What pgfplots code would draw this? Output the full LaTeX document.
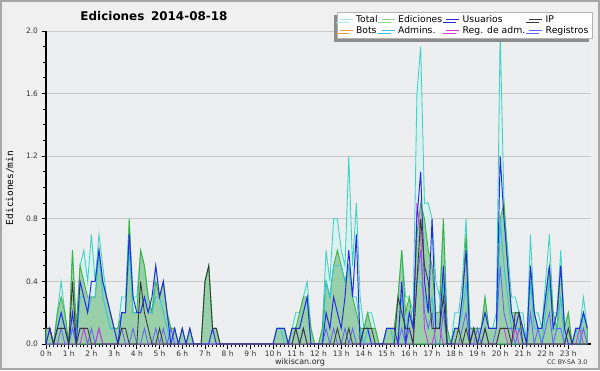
\documentclass[border=0pt]{standalone}
\usepackage{pgfplots}
\pgfplotsset{compat=1.18}
\usepackage{pgfplotstable}
\usepackage{fontspec}
\setmainfont{DejaVu Sans}
\newfontfamily\monofont{DejaVu Sans Mono}
\usetikzlibrary{shadows}

\definecolor{bgout}{HTML}{F0F0F0}
\definecolor{bgin}{HTML}{EDEEF0}
\definecolor{frame}{HTML}{A8A8A8}
\definecolor{totline}{HTML}{3CD2C4}
\definecolor{totfill}{HTML}{D6F3EF}
\definecolor{edline}{HTML}{3DB040}
\definecolor{edfill}{HTML}{6DBB7C}
\definecolor{usline}{HTML}{2828E0}
\definecolor{ipline}{HTML}{383838}
\definecolor{botline}{HTML}{F09A3A}
\definecolor{adline}{HTML}{30C4E0}
\definecolor{raline}{HTML}{D038D8}
\definecolor{rgline}{HTML}{6464F4}
\definecolor{legtot}{HTML}{A8E6E4}
\definecolor{leged}{HTML}{8ED88E}
\definecolor{gridc}{HTML}{C8C8C8}

\pgfplotstableread{
i T E U P A R M
0 0.1 0.1 0 0.1 0 0 0
1 0.1 0.1 0.1 0.1 0 0.1 0
2 0 0 0 0 0 0 0
3 0.2 0.2 0.1 0.1 0.1 0 0
4 0.4 0.3 0.2 0.1 0.2 0.1 0
5 0.2 0.2 0.1 0.1 0.1 0 0
6 0 0 0 0 0 0 0
7 0.6 0.6 0.2 0.4 0.1 0.1 0
8 0.1 0.1 0 0 0 0 0
9 0.5 0.5 0.4 0.1 0.3 0.1 0
10 0.6 0.4 0.3 0.1 0.3 0.1 0.1
11 0.4 0.3 0.2 0.1 0.2 0 0
12 0.7 0.3 0.4 0 0.3 0.1 0
13 0.4 0.3 0.4 0 0.3 0 0
14 0.7 0.6 0.6 0 0.6 0.1 0.1
15 0.5 0.4 0.4 0 0.3 0 0
16 0.3 0.3 0.3 0 0.2 0 0
17 0.2 0.2 0.2 0 0.1 0 0
18 0.1 0.1 0.1 0 0.1 0 0
19 0.1 0.1 0 0 0 0 0
20 0.3 0.2 0.2 0.1 0.2 0.1 0
21 0.3 0.2 0.2 0.1 0.2 0 0
22 0.8 0.8 0.7 0 0.6 0 0
23 0.3 0.2 0.3 0 0.2 0.1 0
24 0.3 0.2 0.2 0 0.2 0 0
25 0.6 0.6 0.2 0.4 0.2 0 0
26 0.5 0.5 0.3 0.2 0.3 0.1 0
27 0.3 0.3 0.2 0.1 0.2 0 0
28 0.2 0.2 0.3 0 0.2 0 0
29 0.5 0.4 0.5 0 0.3 0.1 0
30 0.3 0.3 0.3 0.1 0.3 0 0
31 0.4 0.4 0.4 0 0.2 0.1 0
32 0.2 0.2 0.2 0 0.1 0 0
33 0.1 0.1 0 0 0 0.1 0
34 0.1 0.1 0.1 0 0 0 0
35 0 0 0 0 0 0 0
36 0.1 0.1 0.1 0 0 0 0
37 0 0 0 0 0 0 0
38 0.1 0.1 0.1 0 0 0 0
39 0 0 0 0 0 0 0
40 0 0 0 0 0 0 0
41 0 0 0 0 0 0 0
42 0.4 0.4 0 0.4 0 0 0
43 0.5 0.5 0 0.5 0 0 0
44 0.1 0.1 0.1 0.1 0 0 0
45 0.1 0.1 0 0.1 0 0 0
46 0 0 0 0 0 0 0
47 0 0 0 0 0 0 0
48 0 0 0 0 0 0 0
49 0 0 0 0 0 0 0
50 0 0 0 0 0 0 0
51 0 0 0 0 0 0 0
52 0 0 0 0 0 0 0
53 0 0 0 0 0 0 0
54 0 0 0 0 0 0 0
55 0 0 0 0 0 0 0
56 0 0 0 0 0 0 0
57 0 0 0 0 0 0 0
58 0 0 0 0 0 0 0
59 0 0 0 0 0 0 0
60 0 0 0 0 0 0 0
61 0.1 0.1 0.1 0 0.1 0 0
62 0.1 0.1 0.1 0 0.1 0 0
63 0.1 0.1 0.1 0 0 0 0
64 0 0 0 0 0 0 0
65 0.1 0.1 0.1 0 0.1 0 0
66 0.2 0.1 0.1 0.1 0.1 0.1 0
67 0.2 0.2 0.1 0 0.1 0 0
68 0.3 0.3 0.2 0.1 0.2 0.1 0
69 0.4 0.3 0.3 0 0.3 0 0
70 0.1 0.1 0 0 0 0 0
71 0 0 0 0 0 0 0
72 0 0 0 0 0 0 0
73 0.1 0.1 0 0 0 0 0
74 0.6 0.4 0.2 0 0.4 0.1 0
75 0.4 0.3 0.1 0 0.3 0 0
76 0.8 0.5 0.3 0 0.5 0.1 0
77 0.8 0.6 0.2 0.1 0.5 0 0
78 0.6 0.5 0.1 0 0.5 0 0
79 0.5 0.4 0.3 0 0.4 0.1 0
80 1.2 0.5 0.6 0.1 0.5 0 0
81 0.5 0.3 0.3 0 0.3 0.1 0
82 0.9 0.2 0.7 0 0.3 0 0
83 0.3 0.1 0 0 0.1 0 0
84 0.1 0.1 0.1 0.1 0 0 0
85 0.2 0.2 0.1 0.1 0.1 0 0
86 0.2 0.1 0 0.1 0 0 0
87 0.1 0.1 0 0 0 0 0
88 0 0 0 0 0 0 0
89 0 0 0 0 0 0 0
90 0.1 0.1 0.1 0 0.1 0 0
91 0.1 0.1 0.1 0 0.1 0 0
92 0.1 0.1 0.1 0 0 0 0
93 0.3 0.3 0 0.3 0 0 0
94 0.6 0.6 0.4 0.2 0.3 0.1 0
95 0.3 0.2 0 0.1 0.1 0 0
96 0.3 0.3 0.2 0.1 0.2 0.1 0
97 0.2 0.1 0.1 0 0.1 0 0
98 1.6 0.7 0.8 0.4 0.4 0.4 0.9
99 1.9 0.9 1.1 0.8 0.4 0.6 0.7
100 0.9 0.8 0.4 0.5 0.3 0.2 0.1
101 0.9 0.6 0.2 0.4 0.2 0.1 0
102 0.8 0.5 0.8 0.1 0.3 0.2 0
103 0.4 0.2 0.1 0.1 0.1 0 0.1
104 0.3 0.2 0.1 0.1 0.1 0 0.1
105 0.8 0.8 0.5 0.3 0.4 0.2 0
106 0.1 0.1 0 0 0 0 0
107 0 0 0 0 0 0 0
108 0.2 0.1 0.1 0 0.1 0 0
109 0.2 0.1 0.1 0.1 0.1 0 0
110 0.4 0.3 0.3 0 0.2 0.1 0
111 0.8 0.7 0.6 0.1 0.4 0.2 0
112 0.1 0.1 0 0 0 0 0
113 0.1 0.1 0.1 0.1 0 0 0
114 0.1 0.1 0 0 0 0.1 0
115 0.1 0.1 0.1 0 0.1 0 0
116 0.3 0.3 0.2 0.1 0.2 0.1 0
117 0.1 0.1 0.1 0 0.1 0 0
118 0.1 0.1 0.1 0 0.1 0 0
119 0.2 0.1 0.1 0 0.1 0.1 0
120 2.0 0.8 1.2 0.1 0.8 0.5 0.1
121 0.9 0.9 0.8 0.1 0.5 0.2 0.1
122 0.6 0.5 0.5 0.1 0.3 0.1 0
123 0.3 0.2 0.2 0 0.1 0.1 0
124 0.3 0.2 0.1 0.2 0.1 0 0.1
125 0.2 0.2 0.2 0.2 0.1 0.1 0
126 0.2 0.1 0.1 0 0.1 0 0
127 0 0 0 0 0 0 0
128 0.7 0.5 0.5 0 0.4 0.2 0
129 0.2 0.2 0.2 0 0.1 0 0
130 0.2 0.1 0.1 0 0.1 0.1 0
131 0.1 0.1 0.1 0 0 0 0
132 0.4 0.3 0.3 0 0.2 0.1 0
133 0.7 0.5 0.5 0 0.4 0.2 0
134 0.2 0.2 0.1 0 0.1 0 0
135 0.2 0.1 0.2 0 0.1 0.1 0
136 0.6 0.5 0.5 0 0.3 0.1 0
137 0.1 0.1 0.1 0 0 0 0
138 0.2 0.2 0 0.1 0 0.1 0
139 0 0 0 0 0 0 0
140 0.1 0.1 0.1 0 0.1 0 0
141 0.1 0.1 0.1 0 0 0 0.1
142 0.3 0.2 0.2 0 0.2 0.1 0
143 0.1 0.1 0.1 0 0.1 0 0
}\data

\begin{document}
\begin{tikzpicture}[x=1bp,y=1bp]
\useasboundingbox (0,0) rectangle (600,370);
\fill[bgout] (0,0) rectangle (600,370);
\draw[frame, line width=2bp] (1,1) rectangle (599,369);
\begin{axis}[
  at={(46bp,26bp)}, anchor=south west,
  scale only axis, width=545bp, height=313bp,
  xmin=0, xmax=144, ymin=0, ymax=2.0,
  enlargelimits=false, clip=false,
  axis lines=left, axis line style={-, black, line width=1.3bp},
  axis background/.style={fill=bgin},
  tick align=outside,
  major tick length=4.5bp, minor tick length=3bp,
  every tick/.style={black, line width=0.9bp},
  xtick={0,6,...,138},
  xticklabels={0 h,1 h,2 h,3 h,4 h,5 h,6 h,7 h,8 h,9 h,10 h,11 h,12 h,13 h,14 h,15 h,16 h,17 h,18 h,19 h,20 h,21 h,22 h,23 h},
  minor x tick num=5,
  ytick={0,0.4,0.8,1.2,1.6,2.0},
  minor y tick num=3,
  yticklabel style={/pgf/number format/.cd, fixed, fixed zerofill, precision=1, assume math mode=true},
  ticklabel style={font=\fontsize{7.5}{8}\selectfont, text=black!80},
  xticklabel style={yshift=1bp},
  ymajorgrids, grid style={gridc, line width=0.8bp},
  legend columns=4,
  legend cell align=left,
  legend image code/.code={\draw[#1] (0bp,0bp) -- (13bp,0bp);},
  legend style={at={(1.003,1.061)}, anchor=north east, draw=gray!60, fill=white,
    font=\fontsize{9.3}{9.5}\selectfont, inner xsep=2bp, inner ysep=1.5bp,
    row sep=-1.5bp,
    drop shadow={shadow xshift=-3.5bp, shadow yshift=-3bp, fill=gray!90, opacity=1},
    /tikz/every odd column/.append style={column sep=1bp},
    /tikz/every even column/.append style={column sep=1.5bp}},
]
\addplot[draw=totline, line width=0.85bp, fill=totfill, fill opacity=0.75, forget plot] table[x=i,y=T]{\data} \closedcycle;
\addplot[draw=edline, line width=0.85bp, fill=edfill, fill opacity=0.6, forget plot] table[x=i,y=E]{\data} \closedcycle;
\addplot[draw=adline, line width=0.85bp, forget plot] table[x=i,y=A]{\data};
\addplot[draw=rgline, line width=0.85bp, forget plot] table[x=i,y=R]{\data};
\addplot[draw=raline, line width=0.85bp, forget plot] table[x=i,y=M]{\data};
\addplot[draw=usline, line width=0.95bp, forget plot] table[x=i,y=U]{\data};
\addplot[draw=ipline, line width=0.85bp, forget plot] table[x=i,y=P]{\data};
\addlegendimage{legtot, line width=1bp}\addlegendentry{Total}
\addlegendimage{leged, line width=1bp}\addlegendentry{Ediciones}
\addlegendimage{usline, line width=1bp}\addlegendentry{Usuarios}
\addlegendimage{ipline, line width=1bp}\addlegendentry{IP}
\addlegendimage{botline, line width=1bp}\addlegendentry{Bots}
\addlegendimage{adline, line width=1bp}\addlegendentry{Admins.}
\addlegendimage{raline, line width=1bp}\addlegendentry{Reg. de adm.}
\addlegendimage{rgline, line width=1bp}\addlegendentry{Registros}
\end{axis}
\node[font=\bfseries\fontsize{12}{14}\selectfont] at (154,354) {Ediciones\hspace{0.55em}2014-08-18};
\node[rotate=90, font=\monofont\fontsize{9.5}{11}\selectfont] at (10,182) {Ediciones/min};
\node[font=\fontsize{8}{9}\selectfont, text=black!85] at (300,8) {wikiscan.org};
\node[font=\fontsize{6.3}{7}\selectfont, text=black!80, anchor=east] at (591,8) {CC BY-SA 3.0};
\end{tikzpicture}
\end{document}
